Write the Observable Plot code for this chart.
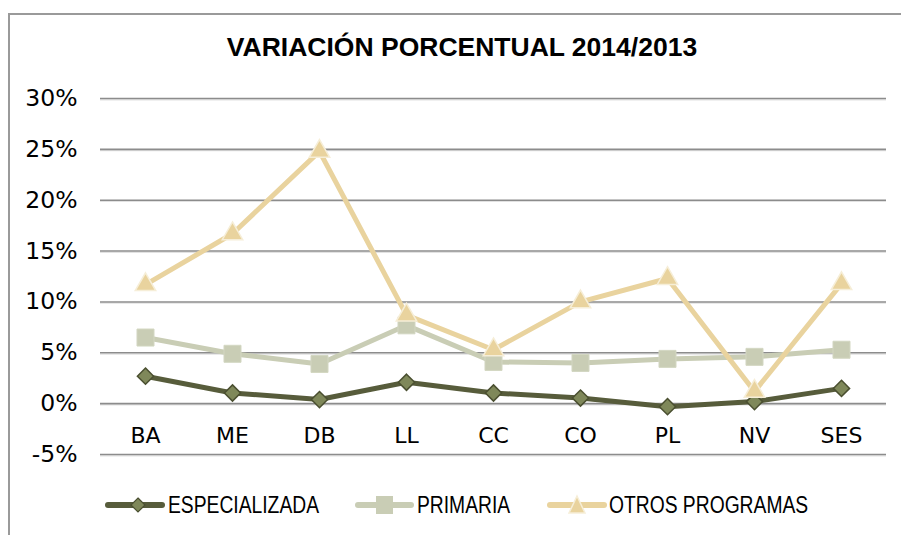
<!DOCTYPE html>
<html><head><meta charset="utf-8">
<script src="https://cdn.jsdelivr.net/npm/d3@7"></script>
<script src="https://cdn.jsdelivr.net/npm/@observablehq/plot@0.6"></script>
<style>
html,body{margin:0;padding:0;background:#fff;}
body{width:901px;height:535px;overflow:hidden;position:relative;}
#frame{position:absolute;left:8px;top:13px;width:1000px;height:600px;border-left:2px solid #9a9a9a;border-top:2px solid #9a9a9a;}
#title{position:absolute;left:0;width:924px;top:32px;text-align:center;font:bold 26.5px "Liberation Sans",Arial,sans-serif;color:#000;}
#chart{position:absolute;left:0;top:0;}
.leg{position:absolute;top:493px;height:24px;display:flex;align-items:center;color:#000;white-space:nowrap;}
.leg span{display:inline-block;font:23.5px "Liberation Sans",Arial,sans-serif;transform:scaleX(0.82);transform-origin:0 50%;}
</style></head>
<body>
<div id="frame"></div>
<div id="chart"></div>
<div id="title">VARIACIÓN PORCENTUAL 2014/2013</div>
<div id="legend"></div>
<script>
const categories = ["BA","ME","DB","LL","CC","CO","PL","NV","SES"];
const especializada = [2.7, 1.05, 0.4, 2.1, 1.05, 0.55, -0.3, 0.2, 1.5];
const primaria = [6.5, 4.9, 3.9, 7.7, 4.1, 4.0, 4.4, 4.6, 5.3];
const otros = [11.7, 16.7, 24.8, 8.7, 5.3, 10.0, 12.3, 1.2, 11.8];
const yTicks = [-5, 0, 5, 10, 15, 20, 25, 30];
const seriesNames = ["ESPECIALIZADA", "PRIMARIA", "OTROS PROGRAMAS"];

const toRows = (vals) => categories.map((c, i) => ({cat: c, v: vals[i]}));
const rE = toRows(especializada), rP = toRows(primaria), rO = toRows(otros);

const cE = "#575c3b", cEfill = "#7f885a", cP = "#c9cdb5", cO = "#e9d39e", cOstroke = "#f6eed8";

const font = "'DejaVu Sans', sans-serif";
const chart = Plot.plot({
  width: 901, height: 480,
  marginTop: 98, marginBottom: 26, marginLeft: 100, marginRight: 15,
  style: {fontFamily: font, color: "#000", background: "transparent"},
  x: {type: "point", domain: categories, padding: 0.5, axis: null},
  y: {domain: [-5, 30], axis: null},
  marks: [
    Plot.ruleY(yTicks, {stroke: "#e2e2e2", strokeWidth: 1.2, dy: 1.3}),
    Plot.ruleY(yTicks, {stroke: "#8c8c8c", strokeWidth: 1.6}),
    Plot.axisY({ticks: yTicks, tickSize: 0, tickPadding: 23, tickFormat: d => d + "%", label: null, fontSize: 23.5, fill: "#000"}),
    Plot.text(categories, {x: d => d, y: () => 0, dy: 32, fontSize: 22, fill: "#000"}),
    Plot.line(rE, {x: "cat", y: "v", stroke: cE, strokeWidth: 5}),
    Plot.dot(rE, {x: "cat", y: "v", symbol: "diamond2", r: 7.3, fill: cEfill, stroke: "#4a4f30", strokeWidth: 1.5}),
    Plot.line(rP, {x: "cat", y: "v", stroke: cP, strokeWidth: 5}),
    Plot.dot(rP, {x: "cat", y: "v", symbol: "square", r: 9.6, fill: cP, stroke: "#d3d7c2", strokeWidth: 1}),
    Plot.line(rO, {x: "cat", y: "v", stroke: cO, strokeWidth: 5}),
    Plot.dot(rO, {x: "cat", y: "v", symbol: "triangle", r: 7.6, fill: cO, stroke: cOstroke, strokeWidth: 1.5})
  ]
});
document.getElementById("chart").appendChild(chart);

// legend
const legend = document.getElementById("legend");
const legLeft = [104, 354, 546];
const markerSvg = [
  `<line x1="4" y1="12" x2="58" y2="12" stroke="${cE}" stroke-width="6" stroke-linecap="round"/><path d="M34,5 L41,12 L34,19 L27,12Z" fill="${cEfill}" stroke="#4a4f30" stroke-width="1.2"/>`,
  `<line x1="4" y1="12" x2="57" y2="12" stroke="${cP}" stroke-width="6" stroke-linecap="round"/><rect x="22" y="3" width="17" height="18" fill="${cP}"/>`,
  `<line x1="4" y1="12" x2="58" y2="12" stroke="${cO}" stroke-width="6" stroke-linecap="round"/><path d="M31,3 L39,20 L23,20Z" fill="${cO}" stroke="${cOstroke}" stroke-width="1.5"/>`
];
const svgW = [64, 63, 63];
seriesNames.forEach((n, i) => {
  const d = document.createElement("div");
  d.className = "leg";
  d.style.left = legLeft[i] + "px";
  d.innerHTML = `<svg width="${svgW[i]}" height="24">${markerSvg[i]}</svg><span>${n}</span>`;
  legend.appendChild(d);
});
</script>
</body></html>
